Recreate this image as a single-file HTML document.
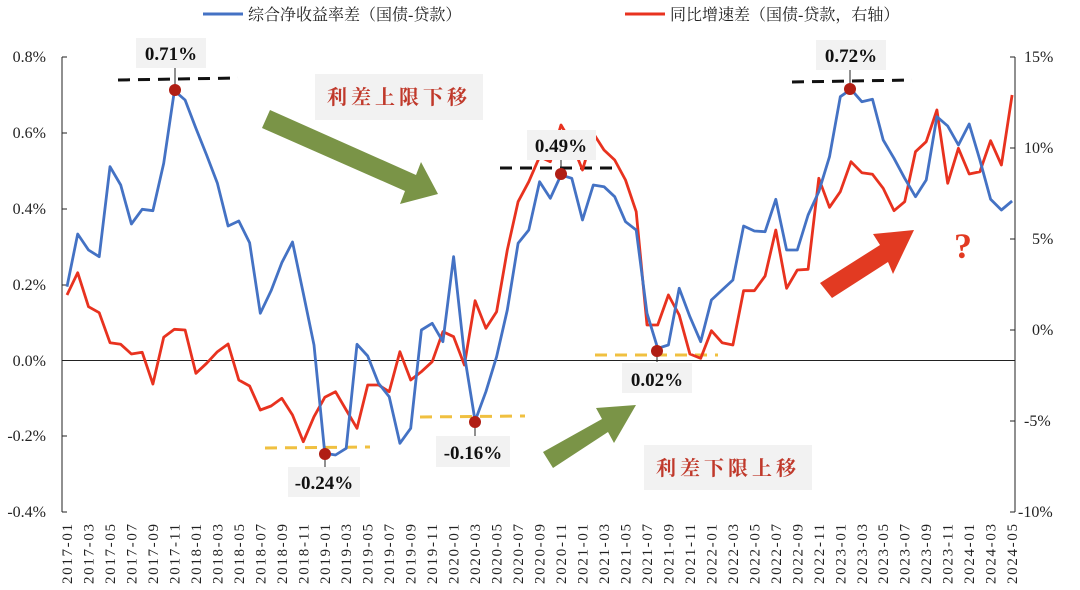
<!DOCTYPE html>
<html><head><meta charset="utf-8"><style>
html,body{margin:0;padding:0;background:#fff;}
svg{display:block;font-family:"Liberation Serif","Noto Serif CJK SC",serif;}
</style></head><body>
<svg width="1080" height="590" viewBox="0 0 1080 590" xmlns="http://www.w3.org/2000/svg">
<!-- legend -->
<line x1="203" y1="14" x2="243" y2="14" stroke="#4472c4" stroke-width="3"/>
<text x="248" y="20" font-size="16" fill="#222">综合净收益率差（国债-贷款）</text>
<line x1="625" y1="14" x2="665" y2="14" stroke="#e8321f" stroke-width="3"/>
<text x="670" y="20" font-size="16" fill="#222">同比增速差（国债-贷款，右轴）</text>

<!-- axes -->
<g stroke="#222" stroke-width="1" fill="none">
<line x1="62" y1="57" x2="62" y2="512"/>
<line x1="62" y1="57" x2="67" y2="57"/><line x1="62" y1="133" x2="67" y2="133"/><line x1="62" y1="209" x2="67" y2="209"/><line x1="62" y1="285" x2="67" y2="285"/><line x1="62" y1="436" x2="67" y2="436"/><line x1="62" y1="512" x2="67" y2="512"/>
<line x1="1015" y1="57" x2="1015" y2="512"/>
<line x1="1010" y1="57" x2="1015" y2="57"/><line x1="1010" y1="148" x2="1015" y2="148"/><line x1="1010" y1="239" x2="1015" y2="239"/><line x1="1010" y1="330" x2="1015" y2="330"/><line x1="1010" y1="421" x2="1015" y2="421"/><line x1="1010" y1="512" x2="1015" y2="512"/>
<line x1="62" y1="360.5" x2="1015" y2="360.5"/>
</g>
<g font-size="16" fill="#222" text-anchor="end">
<text x="46" y="62">0.8%</text><text x="46" y="138">0.6%</text><text x="46" y="214">0.4%</text><text x="46" y="290">0.2%</text><text x="46" y="366">0.0%</text><text x="46" y="441">-0.2%</text><text x="46" y="517">-0.4%</text>
</g>
<g font-size="16" fill="#222">
<text x="1024" y="62">15%</text><text x="1024" y="153">10%</text><text x="1032" y="244">5%</text><text x="1032" y="335">0%</text><text x="1024" y="426">-5%</text><text x="1018" y="517">-10%</text>
</g>
<!-- x labels -->
<g font-size="15" fill="#222" text-anchor="end">
<text transform="translate(72,524) rotate(-90)" textLength="60" lengthAdjust="spacing">2017-01</text>
<text transform="translate(93.5,524) rotate(-90)" textLength="60" lengthAdjust="spacing">2017-03</text>
<text transform="translate(115,524) rotate(-90)" textLength="60" lengthAdjust="spacing">2017-05</text>
<text transform="translate(136.4,524) rotate(-90)" textLength="60" lengthAdjust="spacing">2017-07</text>
<text transform="translate(157.9,524) rotate(-90)" textLength="60" lengthAdjust="spacing">2017-09</text>
<text transform="translate(179.4,524) rotate(-90)" textLength="60" lengthAdjust="spacing">2017-11</text>
<text transform="translate(200.9,524) rotate(-90)" textLength="60" lengthAdjust="spacing">2018-01</text>
<text transform="translate(222.4,524) rotate(-90)" textLength="60" lengthAdjust="spacing">2018-03</text>
<text transform="translate(243.8,524) rotate(-90)" textLength="60" lengthAdjust="spacing">2018-05</text>
<text transform="translate(265.3,524) rotate(-90)" textLength="60" lengthAdjust="spacing">2018-07</text>
<text transform="translate(286.8,524) rotate(-90)" textLength="60" lengthAdjust="spacing">2018-09</text>
<text transform="translate(308.3,524) rotate(-90)" textLength="60" lengthAdjust="spacing">2018-11</text>
<text transform="translate(329.8,524) rotate(-90)" textLength="60" lengthAdjust="spacing">2019-01</text>
<text transform="translate(351.2,524) rotate(-90)" textLength="60" lengthAdjust="spacing">2019-03</text>
<text transform="translate(372.7,524) rotate(-90)" textLength="60" lengthAdjust="spacing">2019-05</text>
<text transform="translate(394.2,524) rotate(-90)" textLength="60" lengthAdjust="spacing">2019-07</text>
<text transform="translate(415.7,524) rotate(-90)" textLength="60" lengthAdjust="spacing">2019-09</text>
<text transform="translate(437.2,524) rotate(-90)" textLength="60" lengthAdjust="spacing">2019-11</text>
<text transform="translate(458.6,524) rotate(-90)" textLength="60" lengthAdjust="spacing">2020-01</text>
<text transform="translate(480.1,524) rotate(-90)" textLength="60" lengthAdjust="spacing">2020-03</text>
<text transform="translate(501.6,524) rotate(-90)" textLength="60" lengthAdjust="spacing">2020-05</text>
<text transform="translate(523.1,524) rotate(-90)" textLength="60" lengthAdjust="spacing">2020-07</text>
<text transform="translate(544.6,524) rotate(-90)" textLength="60" lengthAdjust="spacing">2020-09</text>
<text transform="translate(566,524) rotate(-90)" textLength="60" lengthAdjust="spacing">2020-11</text>
<text transform="translate(587.5,524) rotate(-90)" textLength="60" lengthAdjust="spacing">2021-01</text>
<text transform="translate(609,524) rotate(-90)" textLength="60" lengthAdjust="spacing">2021-03</text>
<text transform="translate(630.5,524) rotate(-90)" textLength="60" lengthAdjust="spacing">2021-05</text>
<text transform="translate(652,524) rotate(-90)" textLength="60" lengthAdjust="spacing">2021-07</text>
<text transform="translate(673.4,524) rotate(-90)" textLength="60" lengthAdjust="spacing">2021-09</text>
<text transform="translate(694.9,524) rotate(-90)" textLength="60" lengthAdjust="spacing">2021-11</text>
<text transform="translate(716.4,524) rotate(-90)" textLength="60" lengthAdjust="spacing">2022-01</text>
<text transform="translate(737.9,524) rotate(-90)" textLength="60" lengthAdjust="spacing">2022-03</text>
<text transform="translate(759.4,524) rotate(-90)" textLength="60" lengthAdjust="spacing">2022-05</text>
<text transform="translate(780.8,524) rotate(-90)" textLength="60" lengthAdjust="spacing">2022-07</text>
<text transform="translate(802.3,524) rotate(-90)" textLength="60" lengthAdjust="spacing">2022-09</text>
<text transform="translate(823.8,524) rotate(-90)" textLength="60" lengthAdjust="spacing">2022-11</text>
<text transform="translate(845.3,524) rotate(-90)" textLength="60" lengthAdjust="spacing">2023-01</text>
<text transform="translate(866.8,524) rotate(-90)" textLength="60" lengthAdjust="spacing">2023-03</text>
<text transform="translate(888.2,524) rotate(-90)" textLength="60" lengthAdjust="spacing">2023-05</text>
<text transform="translate(909.7,524) rotate(-90)" textLength="60" lengthAdjust="spacing">2023-07</text>
<text transform="translate(931.2,524) rotate(-90)" textLength="60" lengthAdjust="spacing">2023-09</text>
<text transform="translate(952.7,524) rotate(-90)" textLength="60" lengthAdjust="spacing">2023-11</text>
<text transform="translate(974.2,524) rotate(-90)" textLength="60" lengthAdjust="spacing">2024-01</text>
<text transform="translate(995.6,524) rotate(-90)" textLength="60" lengthAdjust="spacing">2024-03</text>
<text transform="translate(1017.1,524) rotate(-90)" textLength="60" lengthAdjust="spacing">2024-05</text>
</g>

<!-- text boxes -->
<rect x="315" y="74" width="168" height="46" fill="#f2f2f2"/>
<text x="399" y="104" font-size="20" fill="#c0392b" text-anchor="middle" letter-spacing="4" font-weight="bold">利差上限下移</text>
<rect x="644" y="445" width="168" height="45" fill="#f2f2f2"/>
<text x="728" y="475" font-size="20" fill="#c0392b" text-anchor="middle" letter-spacing="4" font-weight="bold">利差下限上移</text>

<!-- arrows -->
<polygon points="262,128 270,110 416,175 421,162 438,194 400,204 405,191" fill="#7a9447"/>
<polygon points="543,452 553,468 608,432 614,443 636,405 596,408 602,419" fill="#7a9447"/>
<polygon points="820,283 832,298 888,262 893,274 914,230 873,234 880,245" fill="#e23a22"/>
<text x="963" y="258" font-size="36" font-weight="bold" fill="#e23a22" text-anchor="middle">?</text>

<!-- dashed guides -->
<g stroke-width="3" fill="none" stroke-dasharray="12,8">
<line x1="118" y1="80" x2="238" y2="78" stroke="#111"/>
<line x1="500" y1="168" x2="618" y2="168" stroke="#111"/>
<line x1="792" y1="82" x2="912" y2="80" stroke="#111"/>
<line x1="265" y1="448" x2="370" y2="447" stroke="#f0c040"/>
<line x1="420" y1="417" x2="525" y2="416" stroke="#f0c040"/>
<line x1="595" y1="355" x2="718" y2="355" stroke="#f0c040"/>
</g>

<!-- series -->
<polyline fill="none" stroke="#e8321f" stroke-width="2.8" stroke-linejoin="round" points="67,295 77.7,272.7 88.5,306.7 99.2,312.7 110,342.7 120.7,344.3 131.4,354 142.2,352.3 152.9,384 163.7,337.3 174.4,329.3 185.1,330 195.9,373.3 206.6,363.3 217.4,351.7 228.1,344 238.8,380 249.6,386 260.3,410 271.1,406 281.8,398.3 292.5,415 303.3,441.7 314,416.7 324.8,397.3 335.5,391.7 346.2,410 357,428.3 367.7,385 378.5,385 389.2,391.7 399.9,351.7 410.7,380 421.4,371.7 432.2,361.7 442.9,331.7 453.6,336.7 464.4,365 475.1,300.7 485.9,328.3 496.6,311.7 507.3,250 518.1,201.7 528.8,181.7 539.6,156.7 550.3,161.7 561,125 571.8,143.3 582.5,170 593.3,133.3 604,150 614.7,160 625.5,180 636.2,211.7 647,325 657.7,325 668.4,295 679.2,315 689.9,354 700.7,358.3 711.4,330.7 722.1,342.7 732.9,345 743.6,290.7 754.4,290.7 765.1,276 775.8,230 786.6,288.3 797.3,270 808.1,269.3 818.8,178.3 829.5,207.3 840.3,191.7 851,161.7 861.8,172.7 872.5,174.3 883.2,188.3 894,210.7 904.7,201.7 915.5,151.7 926.2,141.7 936.9,110 947.7,183.3 958.4,148.3 969.2,174 979.9,171.7 990.6,140.7 1001.4,165 1012.1,95"/>
<polyline fill="none" stroke="#4472c4" stroke-width="2.8" stroke-linejoin="round" points="67,286.7 77.7,234 88.5,250 99.2,256.7 110,166.7 120.7,185 131.4,224 142.2,209.3 152.9,210.7 163.7,163.3 174.4,90.7 185.1,100 195.9,128.3 206.6,155 217.4,183.3 228.1,226 238.8,221 249.6,242.7 260.3,313.3 271.1,290.7 281.8,262.7 292.5,242 303.3,293.3 314,345 324.8,453.3 335.5,455 346.2,448.3 357,344.3 367.7,356 378.5,383.3 389.2,396.7 399.9,443.3 410.7,428.3 421.4,330 432.2,323.3 442.9,341.7 453.6,256.7 464.4,355 475.1,421 485.9,391.7 496.6,356.7 507.3,310 518.1,243.3 528.8,230 539.6,181.7 550.3,198.3 561,175 571.8,178.3 582.5,220 593.3,185 604,186.7 614.7,196.7 625.5,221.7 636.2,230 647,313.3 657.7,348.3 668.4,345 679.2,288.3 689.9,316.7 700.7,341.7 711.4,300 722.1,290 732.9,280 743.6,226 754.4,231 765.1,231.7 775.8,199.3 786.6,250 797.3,250 808.1,215 818.8,191.7 829.5,156.7 840.3,96.7 851,89.3 861.8,101.7 872.5,99.3 883.2,140 894,158.3 904.7,178.3 915.5,196.7 926.2,180 936.9,116.7 947.7,126 958.4,145 969.2,124 979.9,160 990.6,199.3 1001.4,210 1012.1,201"/>

<!-- markers & labels -->
<g stroke="#222" stroke-width="1">
<line x1="175" y1="68" x2="175" y2="90"/>
<line x1="325" y1="454" x2="325" y2="467"/>
<line x1="475" y1="422" x2="475" y2="436"/>
<line x1="561" y1="160" x2="561" y2="174"/>
<line x1="657" y1="351" x2="657" y2="362"/>
<line x1="850" y1="70" x2="850" y2="89"/>
</g>
<g fill="#b01e14">
<circle cx="175" cy="90" r="6"/><circle cx="325" cy="454" r="6"/><circle cx="475" cy="422" r="6"/>
<circle cx="561" cy="174" r="6"/><circle cx="657" cy="351" r="6"/><circle cx="850" cy="89" r="6"/>
</g>
<g font-size="19" font-weight="bold" fill="#111" text-anchor="middle">
<rect x="136" y="38" width="70" height="30" fill="#f2f2f2"/><text x="171" y="60">0.71%</text>
<rect x="288" y="467" width="72" height="30" fill="#f2f2f2"/><text x="324" y="489">-0.24%</text>
<rect x="436" y="436" width="74" height="31" fill="#f2f2f2"/><text x="473" y="459">-0.16%</text>
<rect x="527" y="130" width="69" height="30" fill="#f2f2f2"/><text x="561" y="152">0.49%</text>
<rect x="622" y="363" width="70" height="30" fill="#f2f2f2"/><text x="657" y="386">0.02%</text>
<rect x="816" y="40" width="70" height="30" fill="#f2f2f2"/><text x="851" y="62">0.72%</text>
</g>
</svg>
</body></html>
